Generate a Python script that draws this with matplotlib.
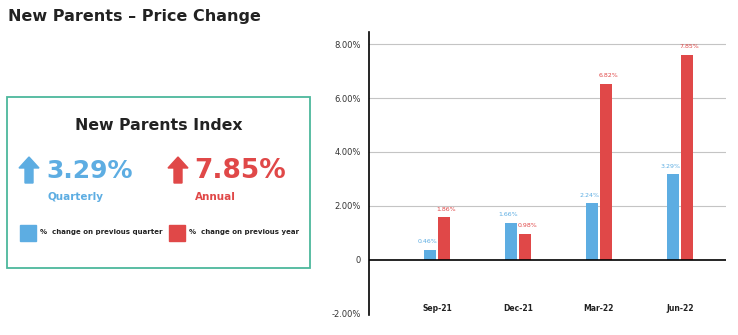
import numpy as np
import matplotlib.pyplot as plt
from matplotlib.patches import Rectangle, Polygon

# data
quarters = ['Sep-21', 'Dec-21', 'Mar-22', 'Jun-22']
quarterly = [0.37, 1.38, 2.09, 3.17]      # drawn bar heights (%)
annual = [1.57, 0.97, 6.53, 7.61]
quarterly_labels = ['0.46%', '1.66%', '2.24%', '3.29%']
annual_labels = ['1.86%', '0.98%', '6.82%', '7.85%']
yticks = [-2, 0, 2, 4, 6, 8]
ytick_labels = ['-2.00%', '0', '2.00%', '4.00%', '6.00%', '8.00%']

BLUE = '#5dade2'
RED = '#e04848'
DARK = '#222222'
W, H = 738, 335

plt.rcParams['font.family'] = 'DejaVu Sans'
fig = plt.figure(figsize=(W / 100, H / 100), dpi=100)


def px(x, y):
    return (x / W, (H - y) / H)


# title
fig.text(*px(8, 16), 'New Parents \u2013 Price Change', fontsize=11.5,
         fontweight='bold', color=DARK, va='center', ha='left')

# index box
x0, y0 = px(7, 268)
x1, y1 = px(310, 97)
fig.patches.append(Rectangle((x0, y0), x1 - x0, y1 - y0, transform=fig.transFigure,
                             fill=False, edgecolor='#4cb89c', linewidth=1.3))
fig.text(*px(159, 126), 'New Parents Index', fontsize=11.3, fontweight='bold',
         color=DARK, ha='center', va='center')


def arrow(xl, color):
    pts = [(xl + 10, 157), (xl + 20, 168), (xl + 14, 168), (xl + 14, 183),
           (xl + 6, 183), (xl + 6, 168), (xl, 168)]
    fig.patches.append(Polygon([px(a, b) for a, b in pts], closed=True,
                               transform=fig.transFigure, color=color))


arrow(19, BLUE)
arrow(168, RED)
fig.text(*px(46, 171), '3.29%', fontsize=18, fontweight='bold', color=BLUE,
         ha='left', va='center')
fig.text(*px(194, 171), '7.85%', fontsize=19, fontweight='bold', color=RED,
         ha='left', va='center')
fig.text(*px(47, 197), 'Quarterly', fontsize=7.5, fontweight='bold', color=BLUE,
         ha='left', va='center')
fig.text(*px(195, 197), 'Annual', fontsize=7.5, fontweight='bold', color=RED,
         ha='left', va='center')

# legend squares
for xl, color, label in [(20, BLUE, '%  change on previous quarter'),
                         (169, RED, '%  change on previous year')]:
    a, b = px(xl, 241)
    c, d = px(xl + 16, 225)
    fig.patches.append(Rectangle((a, b), c - a, d - b, transform=fig.transFigure,
                                 color=color))
    fig.text(*px(xl + 20, 232), label, fontsize=5, fontweight='bold', color=DARK,
             ha='left', va='center')

# bar chart
ax = fig.add_axes([369 / W, (H - 315) / H, (726 - 369) / W, (315 - 32) / H])
x = np.arange(len(quarters))
bw = 0.15
ax.bar(x - bw / 2 - 0.01, quarterly, bw, color=BLUE, zorder=3)
ax.bar(x + bw / 2 + 0.01, annual, bw, color=RED, zorder=3)
for i in range(len(quarters)):
    ax.text(x[i] - bw / 2 - 0.04, quarterly[i] + 0.2, quarterly_labels[i],
            fontsize=4.5, color=BLUE, ha='center', va='bottom')
    ax.text(x[i] + bw / 2 + 0.04, annual[i] + 0.2, annual_labels[i],
            fontsize=4.5, color=RED, ha='center', va='bottom')
    ax.text(x[i], -1.8, quarters[i], fontsize=5.5, fontweight='bold', color=DARK,
            ha='center', va='center')

ax.set_xlim(-0.84, 3.57)
ax.set_ylim(-2.05, 8.45)
ax.set_yticks(yticks)
ax.set_yticklabels(ytick_labels, fontsize=6, color='#333333')
ax.tick_params(axis='y', length=0, pad=6)
ax.set_xticks([])
for y in [2, 4, 6, 8]:
    ax.axhline(y, color='#c4c4c4', linewidth=0.8, zorder=1)
ax.axhline(0, color='black', linewidth=1.2, zorder=4)
for s in ['top', 'right', 'bottom']:
    ax.spines[s].set_visible(False)
ax.spines['left'].set_linewidth(1.2)

fig.savefig('out.png', dpi=100)
